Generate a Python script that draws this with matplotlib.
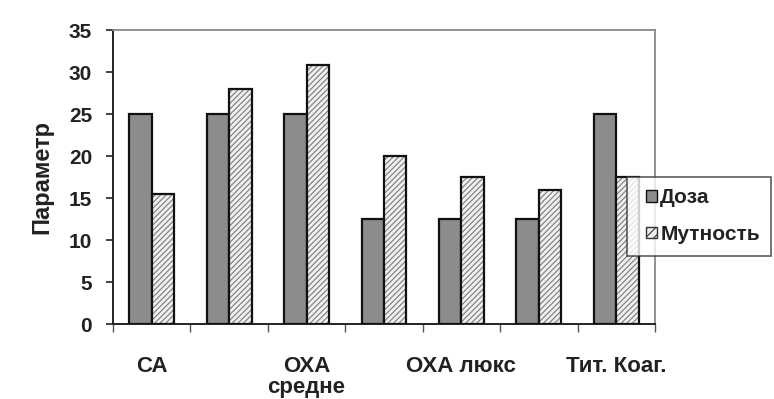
import matplotlib
matplotlib.use("Agg")
import matplotlib.pyplot as plt
from matplotlib.patches import Rectangle
from matplotlib.legend_handler import HandlerPatch
import numpy as np

plt.rcParams['font.family'] = ['Liberation Sans', 'DejaVu Sans']
plt.rcParams['font.weight'] = 'bold'
plt.rcParams['hatch.linewidth'] = 0.8

categories = ["СА", "", "ОХА\nсредне", "", "ОХА люкс", "", "Тит. Коаг."]
doza = [25, 25, 25, 12.5, 12.5, 12.5, 25]
mutnost = [15.5, 28, 30.8, 20, 17.5, 16, 17.5]
series_names = ["Доза", "Мутность"]
y_ticks = [0, 5, 10, 15, 20, 25, 30, 35]

fig = plt.figure(figsize=(7.74, 3.99), dpi=100)
ax = fig.add_axes([113/774, 75/399, 542/774, 294/399])

x = np.arange(len(categories))
w = 0.29
edge_lw = 1.6

ax.bar(x - w/2, doza, width=w, color="#8c8c8c", edgecolor="#111111",
       linewidth=edge_lw, zorder=3)
# hatched fill in grey, outline drawn on top in black
ax.bar(x + w/2, mutnost, width=w, color="#f0f0f0", edgecolor="#7a7a7a",
       linewidth=0, hatch="//////", zorder=3)
ax.bar(x + w/2, mutnost, width=w, fill=False, edgecolor="#111111",
       linewidth=edge_lw, zorder=4)

ax.set_xlim(-0.5, len(categories) - 0.5)
ax.set_ylim(0, 35)
ax.set_yticks(y_ticks)
ax.tick_params(axis='y', labelsize=15, length=5, width=1.2, direction='out',
               pad=10, colors='#222222')

# tick marks sit on the category boundaries, labels at the group centres
ax.set_xticks(np.arange(len(categories) + 1) - 0.5)
ax.set_xticklabels([])
ax.tick_params(axis='x', length=6, width=1, direction='out', colors='#555555')
for xi, lab in zip(x, categories):
    ax.text(xi, -3.8, lab, ha='center', va='top', fontsize=16, fontweight='bold',
            color='#222222', linespacing=1.0)

ax.set_ylabel("Параметр", fontsize=17, fontweight='bold', color='#222222')
ax.yaxis.set_label_coords(-0.11, 0.5)

for side in ('left', 'bottom'):
    ax.spines[side].set_color('#222222')
    ax.spines[side].set_linewidth(1.4)
for side in ('top', 'right'):
    ax.spines[side].set_color('#8a8a8a')
    ax.spines[side].set_linewidth(1.3)


def small_square(legend, orig_handle, xdescent, ydescent, width, height, fontsize):
    s = height * 0.95
    return Rectangle((width - s - xdescent, (height - s) / 2 - ydescent), s, s)


h_doza = Rectangle((0, 0), 1, 1, facecolor="#8c8c8c", edgecolor="#111111",
                   linewidth=1.0)
h_mut = Rectangle((0, 0), 1, 1, facecolor="#f0f0f0", edgecolor="#333333",
                  linewidth=1.0, hatch="////")
leg = fig.legend([h_doza, h_mut], series_names, loc='upper left',
                 bbox_to_anchor=(627/774, 1 - 177/399),
                 prop={'size': 15, 'weight': 'bold'}, frameon=True,
                 fancybox=False, handlelength=0.9, handleheight=0.5,
                 handletextpad=0.15, labelspacing=0.85, borderpad=0.55,
                 borderaxespad=0,
                 handler_map={Rectangle: HandlerPatch(patch_func=small_square)})
leg.get_frame().set_edgecolor('#333333')
leg.get_frame().set_linewidth(1.2)
for t in leg.get_texts():
    t.set_color('#222222')

fig.savefig("out.png", dpi=100)
